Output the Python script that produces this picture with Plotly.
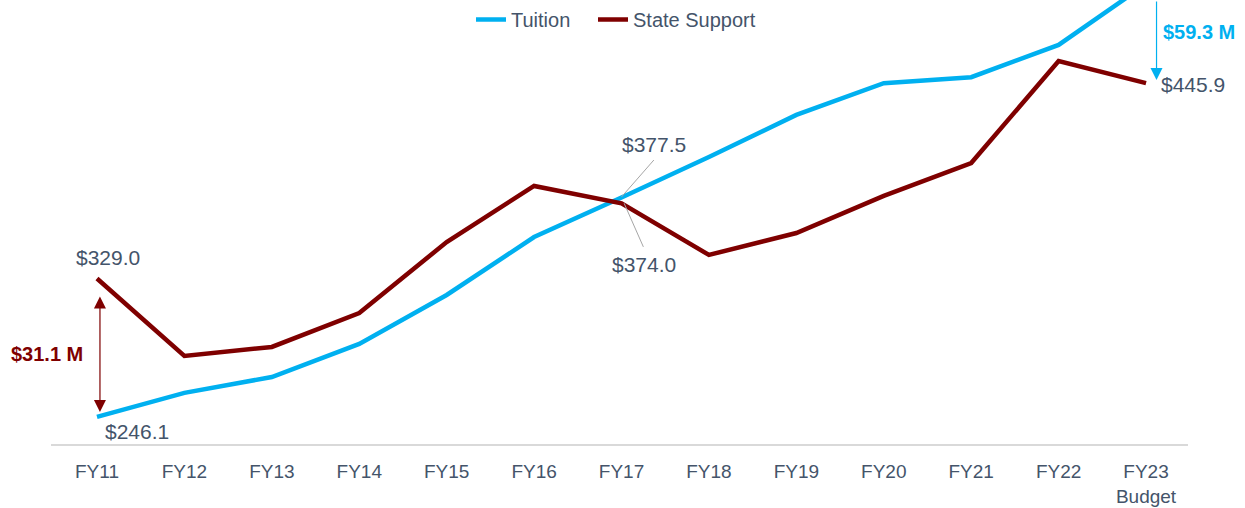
import plotly.graph_objects as go

# ---- data ----
categories = ["FY11", "FY12", "FY13", "FY14", "FY15", "FY16", "FY17",
              "FY18", "FY19", "FY20", "FY21", "FY22", "FY23<br>Budget"]
tuition = [246.1, 260.5, 270.0, 289.8, 319.1, 353.8, 377.5,
           401.7, 426.9, 445.9, 449.5, 468.8, 505.2]
state_support = [329.0, 282.6, 288.0, 308.3, 350.8, 384.4, 374.0,
                 343.1, 356.2, 378.4, 398.1, 459.2, 445.9]
gap_labels = ["$31.1 M", "$59.3 M"]

TUITION_COLOR = "#00B0F0"
STATE_COLOR = "#7F0000"
TEXT_COLOR = "#44546A"
FONT = "Liberation Sans, Arial, sans-serif"

x = list(range(len(categories)))
Y_MIN, Y_MAX = 229.9, 495.7
L, R = 51, 57
PLOT_W = 1245 - L - R


def px_to_paper(px):
    return (px - L) / PLOT_W


fig = go.Figure()
fig.add_trace(go.Scatter(x=x, y=tuition, mode="lines", name="Tuition",
                         line=dict(color=TUITION_COLOR, width=4.5),
                         legend="legend"))
fig.add_trace(go.Scatter(x=x, y=state_support, mode="lines", name="State Support",
                         line=dict(color=STATE_COLOR, width=4.5),
                         legend="legend2"))


def fmt(v):
    return "${:.1f}".format(v)


last = len(categories) - 1
label_font = dict(family=FONT, size=21, color=TEXT_COLOR)
annotations = [
    dict(x=0.13, y=state_support[0] + 12.3, text=fmt(state_support[0]),
         showarrow=False, font=label_font),
    dict(x=0.46, y=tuition[0] - 9.0, text=fmt(tuition[0]),
         showarrow=False, font=label_font),
    dict(x=6.37, y=tuition[6] + 31.4, text=fmt(tuition[6]),
         showarrow=False, font=label_font),
    dict(x=6.26, y=state_support[6] - 36.9, text=fmt(state_support[6]),
         showarrow=False, font=label_font),
    dict(xref="paper", x=px_to_paper(1193), xanchor="center",
         y=state_support[last] - 0.5,
         text=fmt(state_support[last]), showarrow=False, font=label_font),
    # gap labels
    dict(xref="paper", x=px_to_paper(47), xanchor="center", y=283.8,
         text="<b>" + gap_labels[0] + "</b>", showarrow=False,
         font=dict(family=FONT, size=20, color=STATE_COLOR)),
    dict(xref="paper", x=px_to_paper(1199), xanchor="center", y=476.5,
         text="<b>" + gap_labels[1] + "</b>", showarrow=False,
         font=dict(family=FONT, size=20, color=TUITION_COLOR)),
    # double headed arrow FY11
    dict(x=0.034, y=tuition[0] + 3.0, ax=0.034, ay=state_support[0] - 9.9,
         xref="x", yref="y", axref="x", ayref="y", text="", showarrow=True,
         arrowhead=2, arrowside="end+start", arrowsize=2.0, arrowwidth=1.2,
         arrowcolor=STATE_COLOR),
    # down arrow FY23
    dict(x=last + 0.12, y=state_support[last] + 1.9, ax=last + 0.12, ay=Y_MAX,
         xref="x", yref="y", axref="x", ayref="y", text="", showarrow=True,
         arrowhead=2, arrowsize=2.0, arrowwidth=1.2, arrowcolor=TUITION_COLOR),
]

shapes = [
    dict(type="line", xref="x", yref="y", x0=6.0, y0=tuition[6] + 0.3,
         x1=6.37, y1=399.9, line=dict(color="#A6A6A6", width=1)),
    dict(type="line", xref="x", yref="y", x0=6.03, y0=state_support[6],
         x1=6.25, y1=347.9, line=dict(color="#A6A6A6", width=1)),
]

legend_common = dict(orientation="h", xanchor="left", y=1.0, yanchor="top",
                     font=dict(family=FONT, size=20, color=TEXT_COLOR),
                     bgcolor="rgba(0,0,0,0)")

fig.update_layout(
    width=1245, height=508,
    margin=dict(l=L, r=R, t=0, b=64, autoexpand=False),
    paper_bgcolor="white", plot_bgcolor="white",
    font=dict(family=FONT, color=TEXT_COLOR),
    showlegend=True,
    legend=dict(x=px_to_paper(471), **legend_common),
    legend2=dict(x=px_to_paper(593), **legend_common),
    xaxis=dict(range=[-0.526, 12.48], tickmode="array", tickvals=x,
               ticktext=categories, showgrid=False, zeroline=False,
               showline=True, linecolor="#D9D9D9", linewidth=2,
               ticks="outside", ticklen=9, tickcolor="rgba(0,0,0,0)",
               automargin=False,
               tickfont=dict(family=FONT, size=19, color=TEXT_COLOR)),
    yaxis=dict(range=[Y_MIN, Y_MAX], visible=False, showgrid=False,
               zeroline=False, automargin=False),
    annotations=annotations,
    shapes=shapes,
)

fig.write_html("out.html")
